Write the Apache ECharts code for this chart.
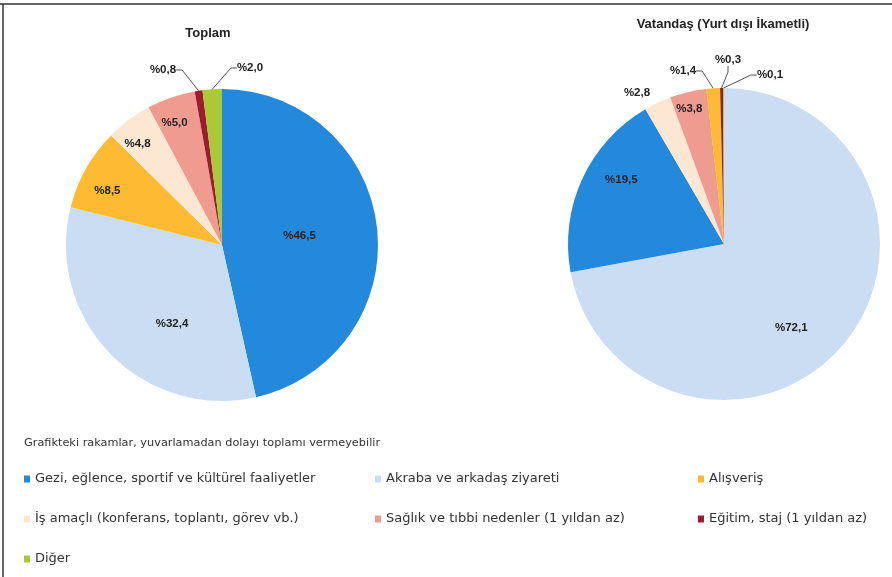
<!DOCTYPE html>
<html>
<head>
<meta charset="utf-8">
<script src="https://cdn.jsdelivr.net/npm/echarts@6/dist/echarts.min.js"></script>
<style>
  html, body { margin: 0; padding: 0; background: #fff; }
  #main { width: 892px; height: 577px; }
</style>
</head>
<body>
<div id="main"></div>
<script>
// kategoriler (lejant sırası)
const categories = [
  'Gezi, eğlence, sportif ve kültürel faaliyetler',
  'Akraba ve arkadaş ziyareti',
  'Alışveriş',
  'İş amaçlı (konferans, toplantı, görev vb.)',
  'Sağlık ve tıbbi nedenler (1 yıldan az)',
  'Eğitim, staj (1 yıldan az)',
  'Diğer'
]
const colors = ['#2389dc', '#cbddf2', '#fdba32', '#fce8d2', '#ef9b90', '#9e1a2e', '#a9c935']
// Toplam (%)
const toplamValues = [46.5, 32.4, 8.5, 4.8, 5.0, 0.8, 2.0]
// Vatandaş (Yurt dışı ikametli) (%)
const vatandasValues = [19.5, 72.1, 1.4, 2.8, 3.8, 0.3, 0.1]
// grafikte saat yönünde çizim sırası
const toplamOrder = [0, 1, 2, 3, 4, 5, 6]
const vatandasOrder = [1, 0, 3, 4, 2, 5, 6]

// etiket ayarları: iç etiketler için kaydırma, dış etiketler için konum
const toplamLabels = {
  0: { shift: [-3, 0] },
  1: { shift: [8, 22] },
  2: { shift: [-44, -14] },
  3: { shift: [-36, -36] },
  4: { shift: [-21, -46] },
  5: { at: [163, 70] },
  6: { at: [250, 68] }
}
const vatandasLabels = {
  0: { shift: [-29, -30] },
  1: { shift: [5, 32] },
  2: { at: [683, 71] },
  3: { at: [637, 93], noLine: true },
  4: { shift: [-16, -56] },
  5: { at: [728, 60] },
  6: { at: [770, 75] }
}

function fmt(v) {
  return '%' + v.toFixed(1).replace('.', ',')
}

function buildData(values, order, labels) {
  return order.map(function (i) {
    const cfg = labels[i] || {}
    const item = {
      name: categories[i],
      value: values[i],
      itemStyle: { color: colors[i] }
    }
    if (cfg.at) {
      item.label = { position: 'outside' }
      item.labelLine = { show: !cfg.noLine, length: 8, length2: 6 }
    }
    return item
  })
}

function makeLayout(order, labels) {
  return function (params) {
    const cfg = labels[order[params.dataIndex]] || {}
    if (cfg.at) {
      return { x: cfg.at[0], y: cfg.at[1], align: 'center', verticalAlign: 'middle' }
    }
    if (cfg.shift) {
      return { dx: cfg.shift[0], dy: cfg.shift[1] }
    }
    return {}
  }
}

const labelStyle = {
  show: true,
  position: 'inside',
  formatter: function (p) { return fmt(p.value) },
  fontFamily: 'Liberation Sans',
  fontSize: 11.5,
  fontWeight: 'bold',
  color: '#222'
}

const legendBase = {
  orient: 'vertical',
  icon: 'rect',
  itemWidth: 6,
  itemHeight: 7,
  itemGap: 24,
  textStyle: {
    fontFamily: 'DejaVu Sans',
    fontSize: 13,
    color: '#333',
    lineHeight: 16
  }
}

const myChart = echarts.init(document.getElementById('main'))
const option = {
  backgroundColor: '#fff',
  animation: false,
  title: [
    {
      text: 'Toplam',
      left: 203,
      top: 22,
      textAlign: 'center',
      textStyle: { fontFamily: 'Liberation Sans', fontSize: 13, fontWeight: 'bold', color: '#222' }
    },
    {
      text: 'Vatandaş (Yurt dışı İkametli)',
      left: 718,
      top: 13,
      textAlign: 'center',
      textStyle: { fontFamily: 'Liberation Sans', fontSize: 13, fontWeight: 'bold', color: '#222' }
    },
    {
      text: 'Grafikteki rakamlar, yuvarlamadan dolayı toplamı vermeyebilir',
      left: 19,
      top: 433,
      textStyle: { fontFamily: 'DejaVu Sans', fontSize: 11.3, fontWeight: 'normal', color: '#333' }
    }
  ],
  legend: [
    Object.assign({}, legendBase, { left: 19, top: 466, data: [categories[0], categories[3], categories[6]] }),
    Object.assign({}, legendBase, { left: 370, top: 466, data: [categories[1], categories[4]] }),
    Object.assign({}, legendBase, { left: 693, top: 466, data: [categories[2], categories[5]] })
  ],
  graphic: [
    { type: 'line', shape: { x1: 0, y1: 4, x2: 892, y2: 4 }, style: { stroke: '#666', lineWidth: 2 } },
    { type: 'line', shape: { x1: 3, y1: 4, x2: 3, y2: 577 }, style: { stroke: '#333', lineWidth: 1.5 } }
  ],
  series: [
    {
      name: 'Toplam',
      type: 'pie',
      center: [222, 245],
      radius: 156,
      startAngle: 90,
      clockwise: true,
      avoidLabelOverlap: false,
      label: labelStyle,
      labelLine: { lineStyle: { color: '#555', width: 1 } },
      labelLayout: makeLayout(toplamOrder, toplamLabels),
      data: buildData(toplamValues, toplamOrder, toplamLabels)
    },
    {
      name: 'Vatandaş (Yurt dışı İkametli)',
      type: 'pie',
      center: [724, 244],
      radius: 156,
      startAngle: 90,
      clockwise: true,
      avoidLabelOverlap: false,
      label: labelStyle,
      labelLine: { lineStyle: { color: '#555', width: 1 } },
      labelLayout: makeLayout(vatandasOrder, vatandasLabels),
      data: buildData(vatandasValues, vatandasOrder, vatandasLabels)
    }
  ]
}
myChart.setOption(option)
window.addEventListener('resize', function () {
  myChart.resize()
})
</script>
</body>
</html>
